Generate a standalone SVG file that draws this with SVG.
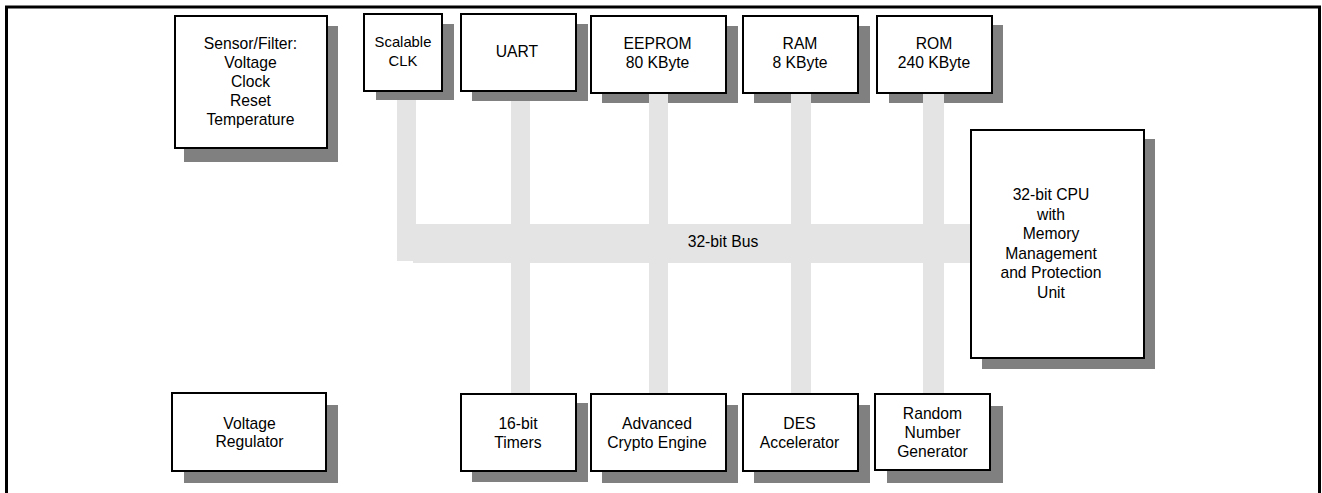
<svg xmlns="http://www.w3.org/2000/svg" width="1322" height="493" viewBox="0 0 1322 493">
<style>
.sh{fill:#808080}
.bx{fill:#fff;stroke:#000;stroke-width:2}
.bus{fill:#e4e4e4}
text{font-family:"Liberation Sans",Arial,sans-serif;font-size:15.7px;fill:#000;text-anchor:middle}
.sm{font-size:14.8px}
</style>
<rect x="0" y="0" width="1322" height="493" fill="#fff"/>
<path d="M6.5,495 V7 H1319.5 V495" fill="none" stroke="#000" stroke-width="3"/>
<g id="shadows">
<rect class="sh" x="184" y="26" width="154" height="136"/>
<rect class="sh" x="376" y="24" width="78" height="76"/>
<rect class="sh" x="472" y="24" width="116" height="77"/>
<rect class="sh" x="602" y="26" width="136" height="77"/>
<rect class="sh" x="754" y="26" width="116" height="77"/>
<rect class="sh" x="889" y="25" width="114" height="78"/>
<rect class="sh" x="982" y="139" width="173" height="230"/>
<rect class="sh" x="184" y="405" width="154" height="78"/>
<rect class="sh" x="472" y="403" width="116" height="79"/>
<rect class="sh" x="602" y="405" width="136" height="78"/>
<rect class="sh" x="754" y="405" width="116" height="78"/>
<rect class="sh" x="887" y="406" width="116" height="77"/>
</g>
<g id="connectors">
<rect class="bus" x="397" y="100" width="19" height="161"/>
<rect class="bus" x="413" y="224" width="559" height="39"/>
<rect class="bus" x="511" y="101" width="19" height="293"/>
<rect class="bus" x="649" y="93" width="19" height="301"/>
<rect class="bus" x="791" y="93" width="20" height="301"/>
<rect class="bus" x="923" y="93" width="21" height="301"/>
<text x="723" y="247">32-bit Bus</text>
</g>
<g id="sensor">
<rect class="bx" x="175" y="16" width="152" height="132"/>
<text x="250.5" y="49">Sensor/Filter:</text>
<text x="250.5" y="68">Voltage</text>
<text x="250.5" y="87">Clock</text>
<text x="250.5" y="106">Reset</text>
<text x="250.5" y="125">Temperature</text>
</g>
<g id="clk">
<rect class="bx" x="364" y="14" width="78" height="77"/>
<text class="sm" x="403" y="47">Scalable</text>
<text class="sm" x="403" y="66">CLK</text>
</g>
<g id="uart">
<rect class="bx" x="461" y="14" width="115" height="77"/>
<text x="517" y="57">UART</text>
</g>
<g id="eeprom">
<rect class="bx" x="591" y="16" width="135" height="77"/>
<text x="657.5" y="48.5">EEPROM</text>
<text x="657.5" y="68">80 KByte</text>
</g>
<g id="ram">
<rect class="bx" x="743" y="16" width="115" height="77"/>
<text x="800" y="48.5">RAM</text>
<text x="800" y="68">8 KByte</text>
</g>
<g id="rom">
<rect class="bx" x="877" y="16" width="115" height="77"/>
<text x="934" y="49">ROM</text>
<text x="934" y="68">240 KByte</text>
</g>
<g id="cpu">
<rect class="bx" x="971" y="130" width="173" height="228"/>
<text x="1051" y="200">32-bit CPU</text>
<text x="1051" y="219.5">with</text>
<text x="1051" y="239">Memory</text>
<text x="1051" y="258.5">Management</text>
<text x="1051" y="278">and Protection</text>
<text x="1051" y="297.5">Unit</text>
</g>
<g id="vreg">
<rect class="bx" x="172" y="393" width="154" height="78"/>
<text x="249.5" y="429.3">Voltage</text>
<text x="249.5" y="447">Regulator</text>
</g>
<g id="timers">
<rect class="bx" x="461" y="394" width="115" height="77"/>
<text x="518" y="428.5">16-bit</text>
<text x="518" y="447.5">Timers</text>
</g>
<g id="ace">
<rect class="bx" x="591" y="394" width="135" height="77"/>
<text x="657" y="428.5">Advanced</text>
<text x="657" y="447.5">Crypto Engine</text>
</g>
<g id="des">
<rect class="bx" x="743" y="394" width="115" height="77"/>
<text x="799.5" y="428.5">DES</text>
<text x="799.5" y="447.5">Accelerator</text>
</g>
<g id="rng">
<rect class="bx" x="875" y="394" width="115" height="76"/>
<text x="932.5" y="419">Random</text>
<text x="932.5" y="438">Number</text>
<text x="932.5" y="457">Generator</text>
</g>
</svg>
